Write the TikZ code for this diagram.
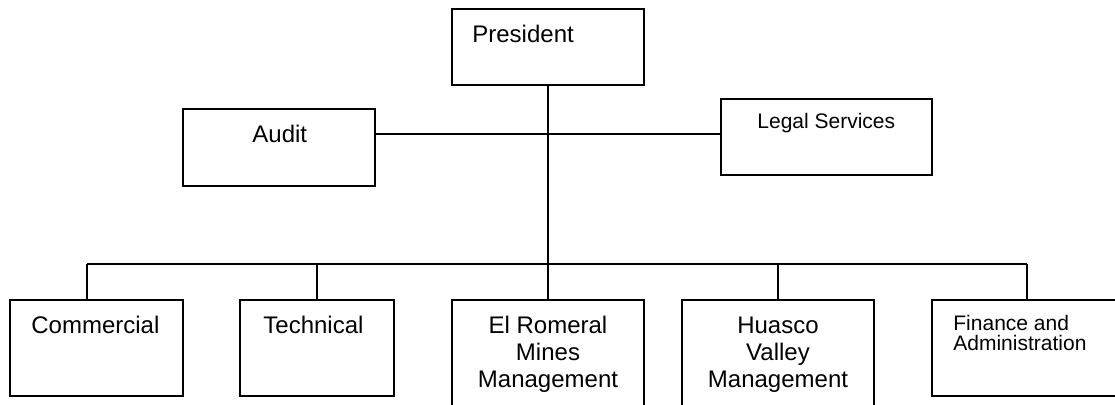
\documentclass[tikz,border=0pt]{standalone}
\usepackage{fontspec}
\setmainfont{Liberation Sans}
\begin{document}
\begin{tikzpicture}[x=0.5pt,y=-0.5pt,
  orgbox/.style={draw=black, line width=1pt, rectangle, inner sep=0pt, outer sep=0pt, anchor=north west},
  conn/.style={draw=black, line width=1pt},
  bigtext/.style={inner sep=0pt, font=\fontsize{12}{13.5}\selectfont},
  smalltext/.style={inner sep=0pt, font=\fontsize{10.5}{10}\selectfont},
]
\useasboundingbox (0,0) rectangle (1115,404);
\clip (0,0) rectangle (1115,404);
% boxes
\node[orgbox, minimum width=96pt, minimum height=38pt] (pres) at (452,9) {};
\node[orgbox, minimum width=96pt, minimum height=38.5pt] (audit) at (183,109) {};
\node[orgbox, minimum width=105.5pt, minimum height=38pt] (legal) at (721,99) {};
\node[orgbox, minimum width=86.5pt, minimum height=48pt] (comm) at (10,300) {};
\node[orgbox, minimum width=77pt, minimum height=48pt] (tech) at (240,300) {};
\node[orgbox, minimum width=96pt, minimum height=60pt] (romeral) at (452,300) {};
\node[orgbox, minimum width=96pt, minimum height=60pt] (huasco) at (682,300) {};
\node[orgbox, minimum width=100pt, minimum height=48pt] (fin) at (932,300) {};
% texts
\node[bigtext, anchor=base west] (presT) at (472,42) {President};
\node[bigtext, anchor=base west] (auditT) at (252,142) {Audit};
\node[smalltext, anchor=base west] (legalT) at (757,128) {Legal Services};
\node[bigtext, anchor=base west] (commT) at (31,333) {Commercial};
\node[bigtext, anchor=base west] (techT) at (263,333) {Technical};
\node[bigtext, anchor=base, align=center] (romeralT) at (548,387) {El Romeral\\Mines\\Management};
\node[bigtext, anchor=base, align=center] (huascoT) at (778,387) {Huasco\\Valley\\Management};
\node[smalltext, anchor=base west, align=left] (finT) at (953,350) {Finance and\\Administration};
% connectors
\coordinate (staff) at (548,134);
\coordinate (busC) at (548,264);
\coordinate (busL) at (87,264);
\coordinate (busR) at (1027,264);
\draw[conn] (pres.south) -- (busC);
\draw[conn] (audit.east |- staff) -- (legal.west |- staff);
\draw[conn] (busL) -- (busR);
\draw[conn] (busL) -- (busL |- comm.north);
\draw[conn] (317,264) -- (tech.north -| 317,0);
\draw[conn] (busC) -- (romeral.north);
\draw[conn] (778,264) -- (huasco.north);
\draw[conn] (busR) -- (busR |- fin.north);
\end{tikzpicture}
\end{document}
